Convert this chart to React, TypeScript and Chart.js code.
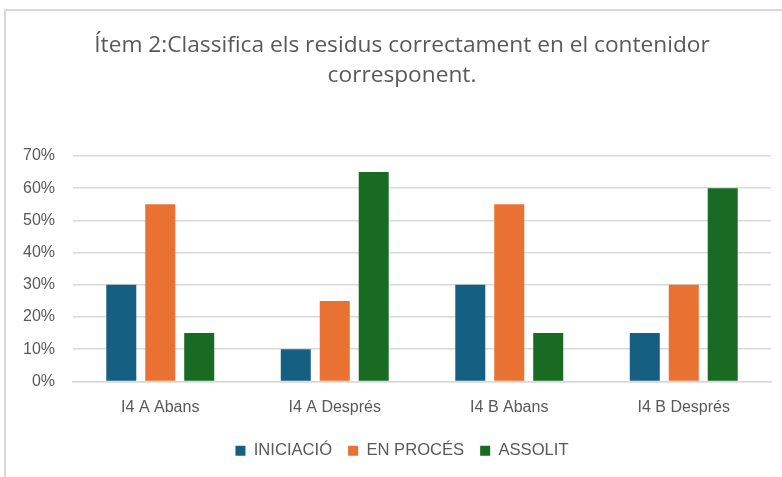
import React, { useEffect, useRef } from "react";
import { Chart, registerables } from "chart.js";

Chart.register(...registerables);

const titleLines = [
  "Ítem 2:Classifica els residus correctament en el contenidor",
  "corresponent.",
];
const categories = ["I4 A Abans", "I4 A Després", "I4 B Abans", "I4 B Després"];
const iniciacio = [0.3, 0.1, 0.3, 0.15];
const enProces = [0.55, 0.25, 0.55, 0.3];
const assolit = [0.15, 0.65, 0.15, 0.6];
const seriesNames = ["INICIACIÓ", "EN PROCÉS", "ASSOLIT"];
const seriesColors = ["#156082", "#E97132", "#196B24"];

const TEXT = "#595959";
const FONT = "'Liberation Sans', Arial, sans-serif";
const TITLE_FONT = "'Open Sans', 'Liberation Sans', sans-serif";

export default function App() {
  const ref = useRef<HTMLCanvasElement | null>(null);

  useEffect(() => {
    document.body.style.margin = "0";
    const canvas = ref.current;
    if (!canvas) return;
    const values = [iniciacio, enProces, assolit];
    const chart = new Chart(canvas, {
      type: "bar",
      data: {
        labels: categories,
        datasets: seriesNames.map((name, i) => ({
          label: name,
          data: values[i],
          backgroundColor: seriesColors[i],
          borderWidth: 0,
          categoryPercentage: 0.67,
          barPercentage: 0.77,
        })),
      },
      options: {
        responsive: false,
        animation: false,
        devicePixelRatio: 1,
        layout: { padding: { left: 22, right: 0, top: 0, bottom: 8 } },
        plugins: {
          title: {
            display: true,
            text: titleLines,
            color: TEXT,
            font: { family: TITLE_FONT, size: 22.7, weight: "normal", lineHeight: "30px" },
            padding: { top: 31, bottom: 65 },
          },
          legend: {
            display: true,
            position: "bottom",
            labels: {
              color: TEXT,
              font: { family: FONT, size: 16.6 },
              boxWidth: 10,
              boxHeight: 10,
              padding: 16,
            },
          },
          tooltip: { enabled: false },
        },
        scales: {
          x: {
            grid: { display: false, drawTicks: false },
            border: { display: true, color: "#d9d9d9", width: 1.5 },
            ticks: { color: TEXT, font: { family: FONT, size: 16 }, padding: 17 },
            afterFit: (scale: any) => {
              scale.height = 45;
            },
          },
          y: {
            min: 0,
            max: 0.7,
            afterFit: (scale: any) => {
              scale.width = 51;
            },
            grid: { color: "#d9d9d9", lineWidth: 1.5, drawTicks: false },
            border: { display: false },
            ticks: {
              stepSize: 0.1,
              color: TEXT,
              font: { family: FONT, size: 16 },
              padding: 18,
              callback: (v: any) => Math.round(Number(v) * 100) + "%",
            },
          },
          yRight: {
            type: "linear",
            position: "right",
            display: true,
            grid: { display: false, drawTicks: false },
            border: { display: false },
            ticks: { display: false },
            afterFit: (scale: any) => {
              scale.width = 11;
            },
          },
        },
      },
    });
    return () => chart.destroy();
  }, []);

  return (
    <div style={{ position: "relative", width: 782, height: 477, overflow: "hidden", background: "#fff" }}>
      <canvas ref={ref} width={782} height={477} style={{ position: "absolute", left: 0, top: 0 }} />
      <div
        style={{
          position: "absolute",
          left: 4,
          top: 9,
          width: 800,
          height: 500,
          borderLeft: "2px solid #d9d9d9",
          borderTop: "2px solid #d9d9d9",
          pointerEvents: "none",
        }}
      />
    </div>
  );
}
